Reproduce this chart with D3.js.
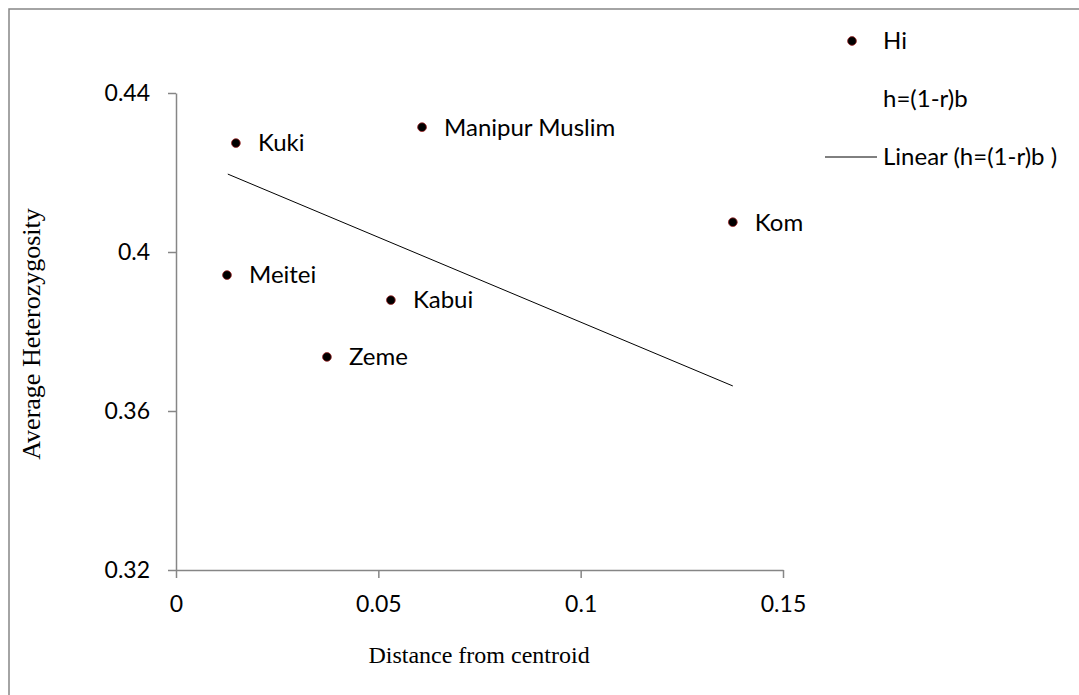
<!DOCTYPE html>
<html><head><meta charset="utf-8">
<script src="https://cdn.jsdelivr.net/npm/d3@7"></script>
<style>body{margin:0;background:#fff}svg{display:block}</style>
</head><body>
<svg id="c" width="1079" height="695"></svg>
<script>
const names = ["Kuki","Manipur Muslim","Kom","Meitei","Kabui","Zeme"];
const distance = [0.0148,0.0608,0.1376,0.0126,0.0531,0.0373];
const heterozygosity = [0.4274,0.4314,0.4075,0.3942,0.3879,0.3736];
const trendX = [0.0128,0.1376];
const trendY = [0.4196,0.3663];
const xTicks = [0,0.05,0.1,0.15];
const yTicks = [0.32,0.36,0.4,0.44];
const legendItems = ["Hi","h=(1-r)b","Linear (h=(1-r)b )"];

const svg = d3.select("#c");
const x = d3.scaleLinear().domain([0,0.15]).range([176,783]);
const y = d3.scaleLinear().domain([0.32,0.44]).range([570,93]);
const tickFont = "Lato, 'Open Sans', sans-serif";
const fs = "23px";
const fsLab = "24px";
const axisCol = "#868686";

svg.append("rect").attr("x",9).attr("y",9).attr("width",1200).attr("height",800)
  .attr("fill","none").attr("stroke",axisCol).attr("stroke-width",1.5);

const xa = svg.append("g").attr("transform","translate(0,570)")
  .call(d3.axisBottom(x).tickValues(xTicks).tickSize(8).tickSizeOuter(0).tickFormat(d3.format("")));
const ya = svg.append("g").attr("transform","translate(176,0)")
  .call(d3.axisLeft(y).tickValues(yTicks).tickSize(8).tickSizeOuter(0).tickFormat(d3.format("")));
[xa,ya].forEach(g=>{
  g.select(".domain").attr("stroke",axisCol).attr("stroke-width",1.5);
  g.selectAll(".tick line").attr("stroke",axisCol).attr("stroke-width",1.5);
  g.selectAll(".tick text").attr("fill","#000").style("font-family",tickFont).style("font-size",fs);
});
xa.selectAll(".tick text").attr("y",34).attr("dy","0.35em");
ya.selectAll(".tick text").attr("x",-26);

svg.append("path")
  .attr("d", d3.line().x(d=>x(d[0])).y(d=>y(d[1]))(trendX.map((v,i)=>[v,trendY[i]])))
  .attr("stroke","#000").attr("stroke-width",1).attr("fill","none");

const pts = names.map((n,i)=>({n, x:distance[i], y:heterozygosity[i]}));
svg.selectAll("circle.pt").data(pts).join("circle").attr("class","pt")
  .attr("cx",d=>x(d.x)).attr("cy",d=>y(d.y)).attr("r",4.4)
  .attr("fill","#000").attr("stroke","#a0282a").attr("stroke-width",0.8);
svg.selectAll("text.lab").data(pts).join("text").attr("class","lab")
  .attr("x",d=>x(d.x)+22).attr("y",d=>y(d.y)).attr("dy","0.35em")
  .style("font-family",tickFont).style("font-size",fsLab).text(d=>d.n);

// legend
const lg = svg.append("g");
const ly = [41,99,157];
lg.append("circle").attr("cx",852).attr("cy",ly[0]).attr("r",4.4)
  .attr("fill","#000").attr("stroke","#a0282a").attr("stroke-width",0.8);
lg.append("line").attr("x1",825).attr("x2",877).attr("y1",ly[2]).attr("y2",ly[2])
  .attr("stroke","#000").attr("stroke-width",1);
lg.selectAll("text").data(legendItems).join("text")
  .attr("x",883).attr("y",(d,i)=>ly[i]).attr("dy","0.35em")
  .style("font-family",tickFont).style("font-size",fsLab).text(d=>d);

svg.append("text").attr("x",479).attr("y",663).attr("text-anchor","middle")
  .style("font-family","'Liberation Serif', serif").style("font-size","24px").text("Distance from centroid");
svg.append("text").attr("transform","translate(40,334) rotate(-90)").attr("text-anchor","middle")
  .style("font-family","'Liberation Serif', serif").style("font-size","26px").text("Average Heterozygosity");
</script>
</body></html>
